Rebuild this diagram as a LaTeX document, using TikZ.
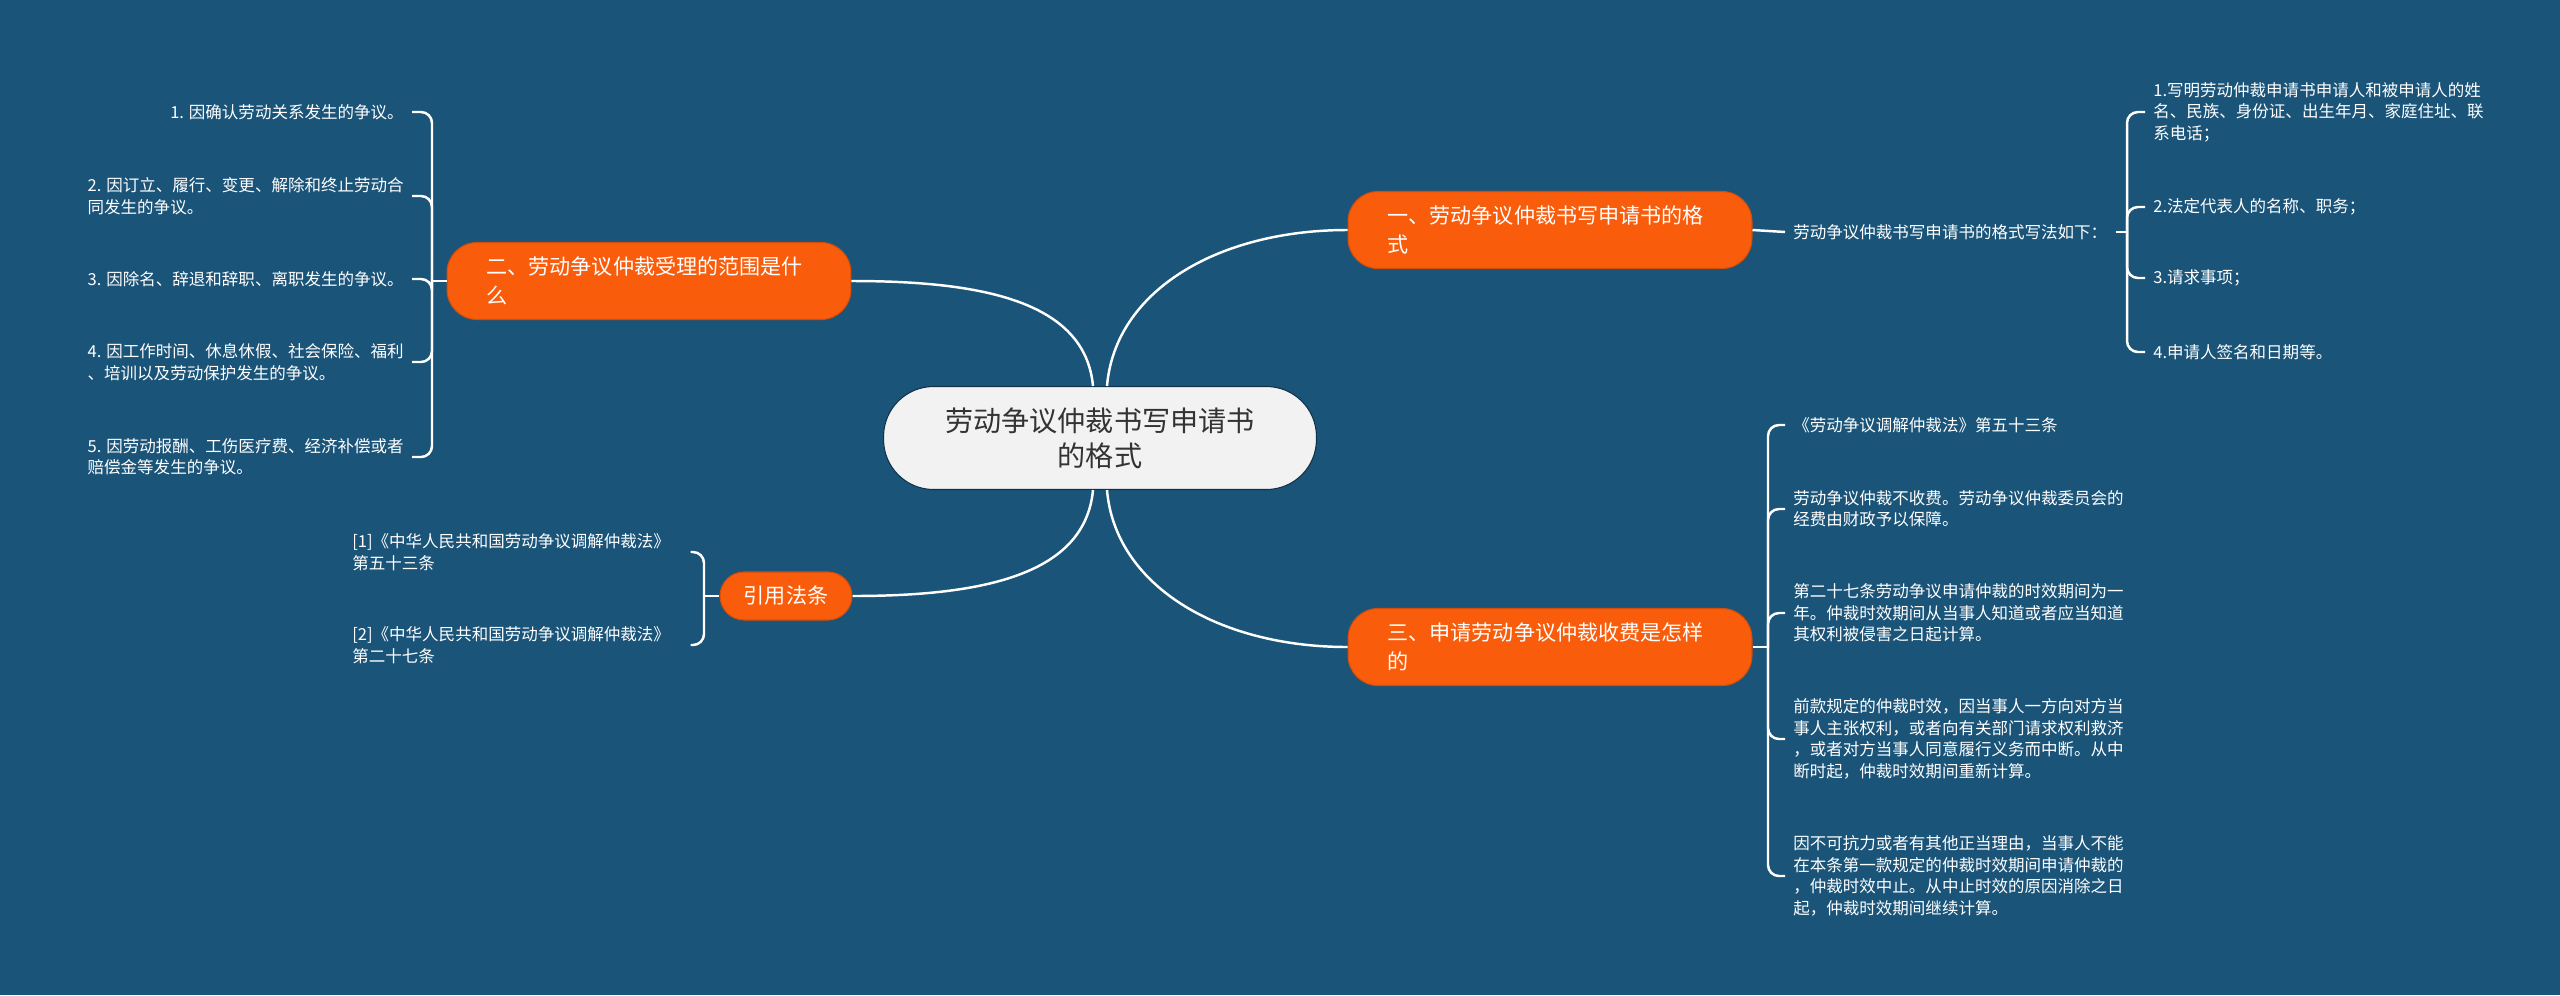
\documentclass[tikz,border=0pt]{standalone}
\usepackage{fontspec}
\setmainfont{Noto Sans CJK SC}
\usepackage{xcolor}
\usepackage{tikz}
\usetikzlibrary{positioning,calc}

\definecolor{bgblue}{RGB}{26,84,121}
\definecolor{topicorange}{RGB}{249,92,11}
\definecolor{hubgray}{RGB}{242,242,242}

\begin{document}
\begin{tikzpicture}[
  x=0.02cm, y=-0.02cm,
  hub/.style={draw=bgblue!60!black, line width=0.6pt, fill=hubgray, rounded corners=1cm, minimum width=8.66cm, minimum height=2.06cm, align=center, text=black!80, font=\fontsize{16pt}{20pt}\selectfont},
  topic/.style={draw=topicorange!85!black, line width=0.6pt, fill=topicorange, rounded corners=0.6cm, text width=6.5cm, inner xsep=0.79cm, minimum height=1.54cm, align=left, text=white, font=\fontsize{12pt}{16.5pt}\selectfont},
  cite/.style={draw=topicorange!85!black, line width=0.6pt, fill=topicorange, rounded corners=0.48cm, minimum width=2.64cm, minimum height=0.96cm, align=center, text=white, font=\fontsize{12pt}{16pt}\selectfont},
  leaf/.style={text=white, align=left, inner xsep=0.16cm, inner ysep=0.1cm, font=\fontsize{9.4pt}{12.2pt}\selectfont},
  link/.style={draw=white, line width=1.4pt, rounded corners=0.22cm}
]
\fill[bgblue] (0,0) rectangle (2560,995);

% centre and main topics
\node[hub] (hub) at (1100,438) {劳动争议仲裁书写申请书\\的格式};
\node[topic] (t1) at (1550,230) {一、劳动争议仲裁书写申请书的格\\式};
\node[topic] (t2) at (649,281) {二、劳动争议仲裁受理的范围是什\\么};
\node[topic] (t3) at (1550,647) {三、申请劳动争议仲裁收费是怎样\\的};
\node[cite] (t4) at (786,596) {引用法条};

\draw[link] ($(hub.north)+(-7,0)$) .. controls +(-8,-85) and +(130,0) .. (t2.east);
\draw[link] ($(hub.north)+(7,0)$) .. controls +(8,-95) and +(-130,0) .. (t1.west);
\draw[link] ($(hub.south)+(7,0)$) .. controls +(8,95) and +(-130,0) .. (t3.west);
\draw[link] ($(hub.south)+(-7,0)$) .. controls +(-8,85) and +(130,0) .. (t4.east);

% topic one
\node[leaf, anchor=west] (f0) at (1785,232) {劳动争议仲裁书写申请书的格式写法如下：};
\node[leaf, anchor=west] (a1) at (2145,112) {1.写明劳动仲裁申请书申请人和被申请人的姓\\名、民族、身份证、出生年月、家庭住址、联\\系电话；};
\node[leaf, anchor=west] (a2) at (2145,207) {2.法定代表人的名称、职务；};
\node[leaf, anchor=west] (a3) at (2145,278) {3.请求事项；};
\node[leaf, anchor=west] (a4) at (2145,352) {4.申请人签名和日期等。};
\coordinate (j1) at (2127,232);
\draw[link] (t1.east) -- (f0.west);
\draw[link] (f0.east) -- (j1);
\foreach \n in {a1,a2,a3,a4} \draw[link] (j1) |- (\n.west);

% topic two
\node[leaf, anchor=east] (s1) at (412,112) {1. 因确认劳动关系发生的争议。};
\node[leaf, anchor=east] (s2) at (412,196) {2. 因订立、履行、变更、解除和终止劳动合\\同发生的争议。};
\node[leaf, anchor=east] (s3) at (412,279) {3. 因除名、辞退和辞职、离职发生的争议。};
\node[leaf, anchor=east] (s4) at (412,362) {4. 因工作时间、休息休假、社会保险、福利\\、培训以及劳动保护发生的争议。};
\node[leaf, anchor=east] (s5) at (412,457) {5. 因劳动报酬、工伤医疗费、经济补偿或者\\赔偿金等发生的争议。};
\coordinate (j2) at (432,281);
\draw[link] (t2.west) -- (j2);
\foreach \n in {s1,s2,s3,s4,s5} \draw[link] (j2) |- (\n.east);

% topic three
\node[leaf, anchor=west] (p1) at (1785,425) {《劳动争议调解仲裁法》第五十三条};
\node[leaf, anchor=west] (p2) at (1785,509) {劳动争议仲裁不收费。劳动争议仲裁委员会的\\经费由财政予以保障。};
\node[leaf, anchor=west] (p3) at (1785,613) {第二十七条劳动争议申请仲裁的时效期间为一\\年。仲裁时效期间从当事人知道或者应当知道\\其权利被侵害之日起计算。};
\node[leaf, anchor=west] (p4) at (1785,739) {前款规定的仲裁时效，因当事人一方向对方当\\事人主张权利，或者向有关部门请求权利救济\\，或者对方当事人同意履行义务而中断。从中\\断时起，仲裁时效期间重新计算。};
\node[leaf, anchor=west] (p5) at (1785,876) {因不可抗力或者有其他正当理由，当事人不能\\在本条第一款规定的仲裁时效期间申请仲裁的\\，仲裁时效中止。从中止时效的原因消除之日\\起，仲裁时效期间继续计算。};
\coordinate (j3) at (1768,647);
\draw[link] (t3.east) -- (j3);
\foreach \n in {p1,p2,p3,p4,p5} \draw[link] (j3) |- (\n.west);

% cited laws
\node[leaf, anchor=west, text width=6.6cm] (r1) at (344,552) {[1]《中华人民共和国劳动争议调解仲裁法》\\第五十三条};
\node[leaf, anchor=west, text width=6.6cm] (r2) at (344,645) {[2]《中华人民共和国劳动争议调解仲裁法》\\第二十七条};
\coordinate (j4) at (704,596);
\draw[link] (t4.west) -- (j4);
\foreach \n in {r1,r2} \draw[link] (j4) |- (\n.east);
\end{tikzpicture}
\end{document}
